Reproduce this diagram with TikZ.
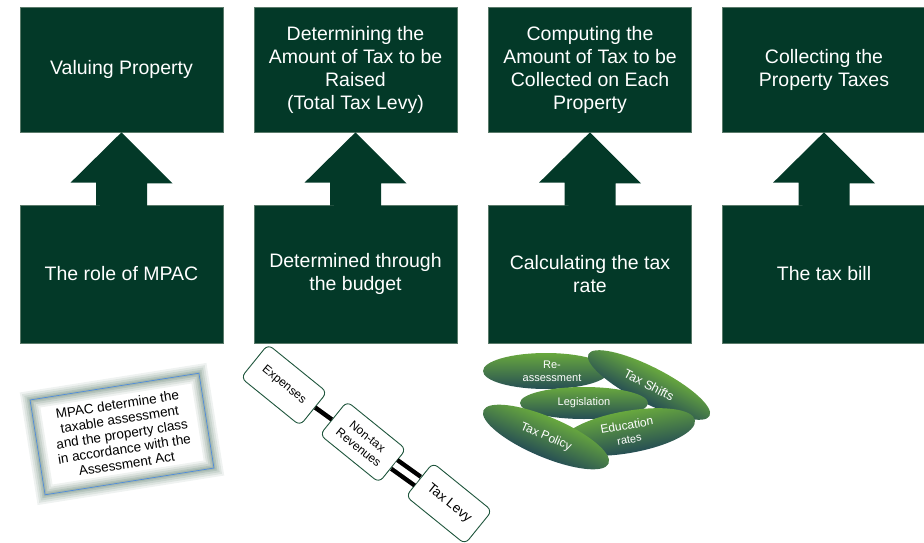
\documentclass[tikz,border=0pt]{standalone}
\usepackage{fontspec}
\setmainfont{Liberation Sans}
\usetikzlibrary{calc,shapes.geometric}
\definecolor{boxgreen}{RGB}{3,57,40}
\definecolor{boxedge}{RGB}{90,122,106}
\definecolor{glowc}{RGB}{100,132,116}
\definecolor{mpacblue}{RGB}{80,140,220}
\definecolor{chainedge}{RGB}{30,85,60}
\definecolor{ellg}{RGB}{104,168,62}
\definecolor{elld}{RGB}{38,78,84}
\newcommand\blockarrow[2]{%
  \fill[boxgreen] ($(#1.north)+(-25.5,1)$) -- ++(0,-23) -- ++(-25.5,0) -- (#2.south)
    -- ($(#2.south)+(51,51)$) -- ++(-25.5,0) -- ++(0,23) -- cycle;}
\newcommand\greenell[8]{% name, x, y, angle, rx, ry, text, font
  \begin{scope}[transform canvas={shift={(#2,#3)}, rotate=#4}]
    \shade[top color=ellg, middle color=ellg!92!black, bottom color=elld]
      (0,0) ellipse [x radius=#5, y radius=#6];
    \node[elltext, font=#8] (#1) at (0,0) {#7};
  \end{scope}}
\begin{document}
\begin{tikzpicture}[x=1pt,y=-1pt,
  topbox/.style={rectangle, fill=boxgreen, draw=boxedge, line width=0.6pt,
    minimum width=203pt, minimum height=125pt, text=white, align=center,
    font=\fontsize{19.5}{23}\selectfont, inner sep=0pt},
  botbox/.style={topbox, minimum height=138pt},
  chainbox/.style={rectangle, rounded corners=6pt, draw=chainedge, line width=0.9pt,
    fill=white, minimum width=76pt, minimum height=43pt, rotate=-39,
    align=center, inner sep=0pt, font=\fontsize{12}{14}\selectfont},
  elltext/.style={text=white, align=center, inner sep=0pt},
  link/.style={line width=4.5pt, black},
]
\useasboundingbox (0,0) rectangle (924,543);

% top row
\node[topbox] (t1) at (121.5,69.5) {Valuing Property};
\node[topbox] (t2) at (355.5,69.5) {Determining the\\Amount of Tax to be\\Raised\\(Total Tax Levy)};
\node[topbox] (t3) at (590,69.5) {Computing the\\Amount of Tax to be\\Collected on Each\\Property};
\node[topbox] (t4) at (824,69.5) {Collecting the\\Property Taxes};

% bottom row
\node[botbox] (b1) at (121.5,274) {The role of MPAC};
\node[botbox] (b2) at (355.5,274) {Determined through\\the budget};
\node[botbox] (b3) at (590,274) {Calculating the tax\\rate};
\node[botbox] (b4) at (824,274) {The tax bill};

\blockarrow{b1}{t1}
\blockarrow{b2}{t2}
\blockarrow{b3}{t3}
\blockarrow{b4}{t4}

% MPAC glow box
\begin{scope}[shift={(122,434)}, rotate=9]
  \fill[white] (-85.5,-48) rectangle (85.5,48);
  \foreach \w/\o in {18/0.10, 14/0.13, 10/0.16, 6/0.2, 3/0.2}
    \draw[glowc, line width=\w pt, opacity=\o] (-85.5,-48) rectangle (85.5,48);
\end{scope}
\node[rotate=9, draw=mpacblue, line width=0.7pt, minimum width=171pt, minimum height=96pt,
  align=center, inner sep=0pt, font=\fontsize{13.5}{15}\selectfont] (mpac) at (122,434)
  {MPAC determine the\\taxable assessment\\and the property class\\in accordance with the\\Assessment Act};

% budget chain
\node[chainbox] (exp) at (284,385) {Expenses};
\node[chainbox] (ntr) at (363,442) {Non-tax\\Revenues};
\node[chainbox, font=\fontsize{13.5}{15}\selectfont] (lev) at (449,503.5) {Tax Levy};
\draw[link] (exp) -- (ntr);
\draw[link, double=white, double distance=6pt] (ntr) -- (lev);

% tax rate ellipses
\greenell{rea}{546}{371}{0}{63}{18}{\hspace*{12pt}Re-\\\hspace*{12pt}assessment}{\fontsize{11}{13}\selectfont}
\greenell{shf}{649}{385}{-27}{68}{18}{Tax Shifts}{\fontsize{12.5}{14}\selectfont}
\greenell{leg}{584}{403}{0}{64}{16}{Legislation}{\fontsize{11}{13}\selectfont}
\greenell{edu}{628}{432}{10}{68}{21}{Education\\{\fontsize{11}{13}\selectfont rates}}{\fontsize{12}{14}\selectfont}
\greenell{pol}{546}{437}{-23}{68}{20}{Tax Policy}{\fontsize{12}{14}\selectfont}
\end{tikzpicture}
\end{document}
